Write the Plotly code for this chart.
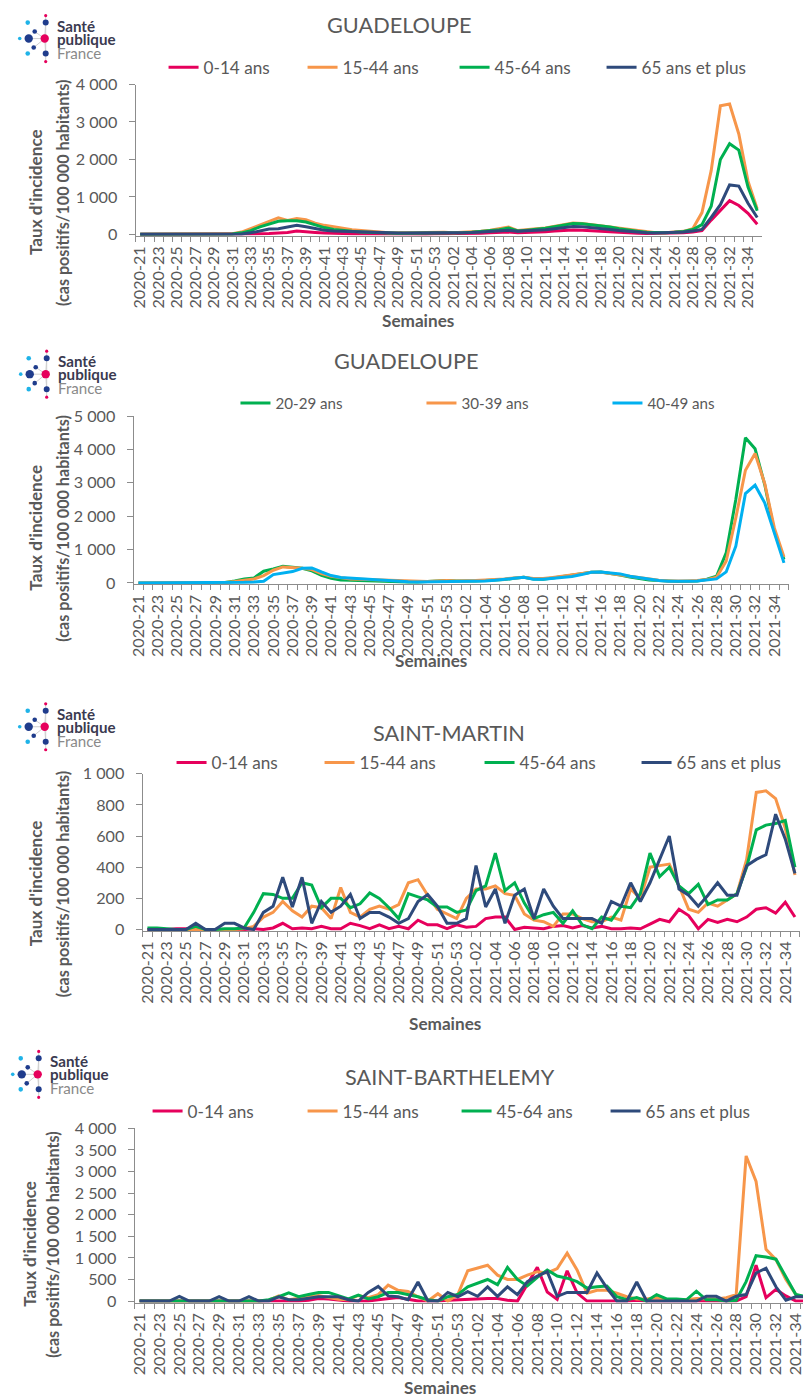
import plotly.graph_objects as go

W, H = 804, 1398
FONT = "Lato, 'Noto Sans', sans-serif"
GREY_TXT = "#595959"
AXIS_COL = "#8c8c8c"
# measured photo mapping: shown = S * page + B  (positions below are given in shown pixels)
SX, BX = 0.9925, 5.25
SY, BY = 0.989, 9.4
FS = 1.01

# ---------------- categories ----------------
weeks = [
    "2020-21", "2020-22", "2020-23", "2020-24", "2020-25", "2020-26", "2020-27", "2020-28",
    "2020-29", "2020-30", "2020-31", "2020-32", "2020-33", "2020-34", "2020-35", "2020-36",
    "2020-37", "2020-38", "2020-39", "2020-40", "2020-41", "2020-42", "2020-43", "2020-44",
    "2020-45", "2020-46", "2020-47", "2020-48", "2020-49", "2020-50", "2020-51", "2020-52",
    "2020-53",
    "2021-01", "2021-02", "2021-03", "2021-04", "2021-05", "2021-06", "2021-07", "2021-08",
    "2021-09", "2021-10", "2021-11", "2021-12", "2021-13", "2021-14", "2021-15", "2021-16",
    "2021-17", "2021-18", "2021-19", "2021-20", "2021-21", "2021-22", "2021-23", "2021-24",
    "2021-25", "2021-26", "2021-27", "2021-28", "2021-29", "2021-30", "2021-31", "2021-32",
    "2021-33", "2021-34", "2021-35",
]
tick_text = [w if i % 2 == 0 else "" for i, w in enumerate(weeks)]

# ---------------- Panel 1 : Guadeloupe, 4 age groups ----------------
gp_0_14 = [0, 0, 0, 0, 2, 2, 3, 3, 5, 5, 8,
           5, 10, 15, 20, 35, 50, 90, 80, 50, 35,
           25, 20, 18, 15, 12, 12, 10, 10, 10, 10,
           12, 15, 15, 18, 20, 25, 30, 40, 50, 60,
           45, 50, 55, 70, 90, 105, 115, 110, 95, 80,
           60, 45, 35, 30, 25, 25, 30, 35, 45, 60,
           100, 380, 650, 900, 770, 560, 270]
gp_15_44 = [0, 0, 0, 0, 2, 3, 5, 5, 8, 10, 15,
            60, 150, 250, 350, 440, 370, 420, 390, 300, 240,
            190, 160, 120, 100, 75, 55, 45, 40, 35, 40,
            50, 60, 55, 45, 50, 60, 80, 110, 150, 195,
            100, 130, 150, 170, 210, 260, 300, 290, 260, 230,
            200, 160, 120, 90, 60, 45, 45, 55, 80, 150,
            580, 1700, 3430, 3480, 2680, 1420, 680]
gp_45_64 = [0, 0, 0, 0, 2, 2, 3, 3, 5, 8, 10,
            40, 100, 200, 280, 350, 360, 360, 330, 250, 180,
            130, 100, 80, 65, 50, 40, 35, 30, 30, 30,
            35, 40, 40, 40, 45, 55, 70, 90, 120, 170,
            90, 110, 130, 160, 200, 250, 290, 285, 260, 230,
            195, 150, 110, 80, 55, 45, 45, 55, 75, 130,
            260, 750, 2000, 2420, 2250, 1260, 630]
gp_65 = [0, 0, 0, 0, 0, 2, 2, 3, 3, 5, 5,
         10, 40, 100, 140, 150, 190, 240, 200, 150, 110,
         90, 80, 70, 60, 50, 45, 40, 35, 35, 35,
         40, 45, 45, 40, 45, 50, 60, 70, 90, 110,
         80, 90, 100, 120, 150, 180, 210, 205, 185, 160,
         130, 100, 75, 55, 40, 35, 40, 45, 60, 90,
         130, 450, 790, 1320, 1290, 830, 450]

# ---------------- Panel 2 : Guadeloupe, 20-49 ----------------
gp_20_29 = [0, 0, 0, 0, 0, 0, 0, 0, 5, 10,
            60, 120, 150, 350, 420, 500, 470, 440, 360, 230,
            140, 90, 80, 70, 50, 45, 40, 35, 30, 30,
            40, 60, 75, 60, 50, 55, 70, 80, 100, 140,
            170, 120, 110, 150, 190, 230, 270, 320, 330, 290,
            240, 180, 130, 90, 70, 50, 40, 50, 60, 110,
            200, 900, 2500, 4350, 4020, 2950, 1550, 700]
gp_30_39 = [0, 0, 0, 0, 0, 0, 0, 0, 5, 10,
            40, 80, 120, 220, 380, 480, 470, 440, 400, 280,
            200, 150, 120, 110, 100, 80, 70, 50, 40, 35,
            40, 55, 70, 60, 60, 70, 90, 100, 120, 150,
            170, 130, 130, 160, 200, 240, 280, 320, 320, 280,
            230, 180, 140, 100, 80, 60, 50, 60, 70, 100,
            170, 650, 1950, 3380, 3880, 2980, 1650, 780]
gp_40_49 = [0, 0, 0, 0, 0, 0, 0, 0, 0, 5,
            10, 20, 30, 50, 250, 290, 340, 440, 450, 330,
            220, 160, 140, 120, 100, 80, 60, 40, 35, 30,
            35, 40, 50, 45, 40, 50, 60, 80, 100, 140,
            170, 110, 110, 130, 150, 190, 250, 320, 330, 310,
            270, 200, 150, 110, 70, 50, 40, 50, 60, 80,
            120, 330, 1100, 2680, 2930, 2400, 1500, 600]

# ---------------- Panel 3 : Saint-Martin ----------------
sm_0_14 = [0, 0, 0, 5, 5, 0, 0, 0, 0, 0,
           0, 5, 0, 10, 40, 5, 10, 5, 20, 5,
           5, 40, 25, 5, 30, 5, 20, 5, 60, 30,
           30, 5, 30, 15, 20, 70, 80, 80, 0, 15,
           10, 5, 20, 25, 10, 25, 10, 20, 5, 5,
           10, 5, 35, 65, 50, 130, 90, 5, 65, 45,
           65, 50, 80, 130, 140, 105, 175, 80]
sm_15_44 = [0, 0, 0, 0, 0, 0, 0, 0, 0, 0,
            5, 20, 80, 110, 180, 120, 80, 150, 140, 70,
            270, 110, 80, 130, 150, 130, 160, 300, 320, 220,
            130, 100, 70, 200, 260, 260, 280, 230, 220, 100,
            60, 50, 20, 100, 100, 70, 50, 50, 80, 60,
            260, 200, 400, 410, 420, 280, 130, 110, 170, 150,
            190, 230, 450, 880, 890, 840, 650, 350]
sm_45_64 = [10, 10, 5, 0, 0, 20, 0, 0, 5, 5,
            10, 110, 230, 225, 200, 200, 300, 285, 140, 200,
            200, 140, 165, 235, 200, 140, 70, 230, 210, 190,
            145, 145, 110, 125, 250, 280, 490, 250, 300, 170,
            70, 95, 110, 40, 120, 30, 5, 80, 60, 150,
            140, 230, 490, 340, 400, 280, 230, 290, 160, 190,
            190, 230, 400, 640, 670, 680, 700, 400]
sm_65 = [0, 0, 0, 0, 0, 40, 0, 0, 40, 40,
         10, 0, 110, 150, 335, 145, 335, 40, 180, 110,
         150, 225, 70, 110, 110, 80, 40, 70, 180, 225,
         150, 40, 40, 70, 410, 145, 260, 40, 220, 260,
         70, 260, 150, 70, 70, 70, 70, 40, 180, 150,
         300, 180, 300, 450, 600, 260, 220, 150, 220, 300,
         220, 220, 410, 450, 480, 740, 580, 360]

# ---------------- Panel 4 : Saint-Barthelemy ----------------
sb_0_14 = [0, 0, 0, 0, 0, 0, 0, 0, 0, 0,
           0, 0, 0, 0, 0, 0, 0, 20, 60, 50,
           20, 0, 0, 0, 30, 60, 80, 40, 0, 0,
           0, 20, 30, 50, 60, 60, 60, 20, 0, 400,
           780, 210, 40, 700, 190, 0, 0, 0, 0, 0,
           20, 0, 0, 0, 0, 0, 0, 0, 0, 0,
           0, 100, 830, 80, 270, 120, 0, 0]
sb_15_44 = [0, 0, 0, 0, 0, 0, 0, 0, 0, 0,
            0, 0, 0, 20, 120, 30, 60, 100, 130, 80,
            40, 30, 130, 80, 150, 370, 250, 220, 100, 0,
            170, 0, 150, 700, 770, 830, 600, 500, 500, 600,
            680, 650, 750, 1110, 720, 180, 250, 250, 180, 100,
            50, 50, 80, 30, 30, 30, 60, 50, 50, 80,
            150, 3360, 2770, 1200, 960, 500, 150, 80]
sb_45_64 = [0, 0, 0, 0, 0, 0, 0, 0, 0, 0,
            0, 0, 0, 30, 100, 190, 100, 150, 200, 200,
            120, 50, 140, 50, 100, 200, 200, 150, 100, 30,
            0, 100, 150, 330, 420, 500, 380, 780, 500, 350,
            550, 720, 580, 530, 450, 300, 330, 350, 100, 30,
            80, 0, 150, 50, 50, 30, 230, 30, 30, 0,
            20, 450, 1050, 1020, 970, 550, 150, 100]
sb_65 = [0, 0, 0, 0, 110, 0, 0, 0, 100, 0,
         0, 100, 0, 0, 100, 30, 30, 60, 100, 100,
         100, 30, 0, 200, 340, 120, 100, 30, 440, 0,
         0, 200, 100, 220, 110, 330, 110, 330, 150, 450,
         580, 680, 110, 200, 200, 200, 650, 300, 0, 0,
         440, 0, 0, 0, 0, 0, 0, 110, 110, 0,
         110, 150, 650, 760, 330, 20, 100, 100]

# ---------------- labels / colours ----------------
age4 = ["0-14 ans", "15-44 ans", "45-64 ans", "65 ans et plus"]
age3 = ["20-29 ans", "30-39 ans", "40-49 ans"]
col4 = ["#E6005C", "#F7964A", "#00B050", "#2E4A7B"]
col3 = ["#00B050", "#F7964A", "#00B0F0"]
titles = ["GUADELOUPE", "GUADELOUPE", "SAINT-MARTIN", "SAINT-BARTHELEMY"]


def px(x):
    return min(1.0, max(0.0, ((x - BX) / SX) / W))


def py(y):
    return min(1.0, max(0.0, 1 - ((y - BY) / SY) / H))


panels = [
    dict(series=[gp_0_14, gp_15_44, gp_45_64, gp_65], names=age4, colors=col4,
         x0=135, x1=762, top=84, bot=235.5, yr=[-40, 4000], dt=1000, xr=[-0.5, 67.5],
         title_xy=(399, 24), leg_y=67, leg_text=203, leg_w=[94, 107, 102, 110], leg_fs=17,
         yt=(35, 62, 192), sem=(418, 320), logo=(0, 0)),
    dict(series=[gp_20_29, gp_30_39, gp_40_49], names=age3, colors=col3,
         x0=133, x1=789, top=416, bot=584.5, yr=[-45, 5000], dt=1000, xr=[-0.5, 67.5],
         title_xy=(406, 361), leg_y=403, leg_text=275, leg_w=[141, 141, 110], leg_fs=15,
         yt=(35, 62, 528), sem=(431, 661), logo=(1, 336)),
    dict(series=[sm_0_14, sm_15_44, sm_45_64, sm_65], names=age4, colors=col4,
         x0=142, x1=800, top=774, bot=931.5, yr=[-9.6, 1000], dt=200, xr=[-0.5, 67.5],
         title_xy=(449, 733), leg_y=763, leg_text=211, leg_w=[103, 115, 112, 110], leg_fs=17,
         yt=(35, 62, 884), sem=(445, 1024), logo=(0, 689)),
    dict(series=[sb_0_14, sb_15_44, sb_45_64, sb_65], names=age4, colors=col4,
         x0=134, x1=804, top=1129, bot=1303.5, yr=[-35, 4000], dt=500, xr=[-0.5, 66.72],
         title_xy=(450, 1078), leg_y=1112, leg_text=187, leg_w=[110, 109, 104, 110], leg_fs=17,
         yt=(28, 51, 1245), sem=(440, 1389), logo=(-7, 1037)),
]

fig = go.Figure()
annotations = []
shapes = []
layout = {}


def add_logo(dx, dy):
    navy = "#1F3C8C"
    pink = "#E6005C"
    light = "#1FB3E8"
    center = (44 + dx, 38 + dy)
    spokes = [(28, 38), (45, 22), (45, 53), (34, 31), (33, 47)]
    for (sx, sy) in spokes:
        shapes.append(dict(type="line", xref="paper", yref="paper",
                           x0=px(center[0]), y0=py(center[1]), x1=px(sx + dx), y1=py(sy + dy),
                           line=dict(color="#cfcfcf", width=1)))
    shapes.append(dict(type="line", xref="paper", yref="paper",
                       x0=px(45 + dx), y0=py(15 + dy), x1=px(45 + dx), y1=py(61 + dy),
                       line=dict(color="#cfcfcf", width=1)))
    dots = [(45, 15, 1.6, pink), (27, 22, 2.3, light), (45, 22, 3.0, navy),
            (34, 31, 2.3, navy), (19, 38, 1.8, light), (28, 38, 4.2, navy),
            (44, 38, 4.2, pink), (33, 47, 2.3, navy), (27, 53, 2.3, light),
            (45, 53, 3.0, navy), (45, 61, 1.6, pink)]
    for (cx, cy, r, c) in dots:
        shapes.append(dict(type="circle", xref="paper", yref="paper",
                           x0=px(cx + dx - r), x1=px(cx + dx + r),
                           y0=py(cy + dy + r), y1=py(cy + dy - r),
                           fillcolor=c, line=dict(width=0)))
    for txt, ty, bold, col in [("Santé", 25, True, "#3A3A50"), ("publique", 38, True, "#3A3A50"),
                               ("France", 52, False, "#8a8a8a")]:
        annotations.append(dict(xref="paper", yref="paper", x=px(54 + dx), y=py(ty + dy),
                                xanchor="left", yanchor="middle", showarrow=False,
                                text=f"<b>{txt}</b>" if bold else txt,
                                font=dict(family=FONT, size=15 * FS, color=col)))


for k, p in enumerate(panels):
    sfx = "" if k == 0 else str(k + 1)
    xa, ya = "x" + sfx, "y" + sfx
    leg = "legend" + sfx
    for j, (vals, nm, c) in enumerate(zip(p["series"], p["names"], p["colors"])):
        fig.add_trace(go.Scatter(
            x=weeks, y=vals, mode="lines", name=nm,
            line=dict(color=c, width=3), xaxis=xa, yaxis=ya, legend=leg,
            legendwidth=p["leg_w"][j], hoverinfo="skip"))
    layout["xaxis" + sfx] = dict(
        domain=[px(p["x0"]), px(p["x1"])], anchor=ya, type="category",
        categoryorder="array", categoryarray=weeks, range=p["xr"],
        tickmode="array", tickvals=weeks, ticktext=tick_text, tickangle=-90,
        tickson="boundaries", ticks="outside", ticklen=5, tickcolor=AXIS_COL,
        ticklabelstandoff=3,
        showline=True, linecolor=AXIS_COL, linewidth=1, showgrid=False, zeroline=False,
        tickfont=dict(family=FONT, size=16 * FS, color=GREY_TXT), fixedrange=True)
    layout["yaxis" + sfx] = dict(
        domain=[py(p["bot"]), py(p["top"])], anchor=xa, range=p["yr"],
        tickmode="linear", tick0=0, dtick=p["dt"], tickformat=",",
        ticks="outside", ticklen=6, tickcolor=AXIS_COL, showline=True,
        ticklabelstandoff=8,
        linecolor=AXIS_COL, linewidth=1, showgrid=False, zeroline=False,
        tickfont=dict(family=FONT, size=16 * FS, color=GREY_TXT), fixedrange=True)
    layout[leg] = dict(
        x=px(p["leg_text"] - 40), y=py(p["leg_y"]), xanchor="left", yanchor="middle",
        orientation="h", bgcolor="rgba(0,0,0,0)", itemwidth=30, traceorder="normal",
        font=dict(family=FONT, size=p["leg_fs"] * FS, color=GREY_TXT))
    annotations.append(dict(xref="paper", yref="paper", x=px(p["title_xy"][0]), y=py(p["title_xy"][1]),
                            xanchor="center", yanchor="middle", showarrow=False, text=titles[k],
                            font=dict(family=FONT, size=21.5 * FS, color=GREY_TXT)))
    yx1, yx2, yc = p["yt"]
    annotations.append(dict(xref="paper", yref="paper", x=px(yx1), y=py(yc), textangle=-90,
                            xanchor="center", yanchor="middle", showarrow=False,
                            text="<b>Taux d'incidence</b>",
                            font=dict(family=FONT, size=17 * FS, color=GREY_TXT)))
    annotations.append(dict(xref="paper", yref="paper", x=px(yx2), y=py(yc), textangle=-90,
                            xanchor="center", yanchor="middle", showarrow=False,
                            text="<b>(cas positifs/100 000 habitants)</b>",
                            font=dict(family=FONT, size=16 * FS, color=GREY_TXT)))
    annotations.append(dict(xref="paper", yref="paper", x=px(p["sem"][0]), y=py(p["sem"][1]),
                            xanchor="center", yanchor="middle", showarrow=False,
                            text="<b>Semaines</b>",
                            font=dict(family=FONT, size=17 * FS, color=GREY_TXT)))
    add_logo(*p["logo"])

fig.update_layout(
    width=W, height=H, margin=dict(l=0, r=0, t=0, b=0),
    paper_bgcolor="white", plot_bgcolor="white",
    separators=", ", showlegend=True,
    font=dict(family=FONT, color=GREY_TXT),
    annotations=annotations, shapes=shapes, **layout)

pin_script = (
    "var d=document.getElementById('{plot_id}');"
    "d.style.position='fixed';d.style.left='0px';d.style.top='0px';"
    "document.body.style.margin='0';document.documentElement.style.overflow='hidden';"
)
fig.write_html("out.html", config={"displayModeBar": False}, post_script=pin_script)
